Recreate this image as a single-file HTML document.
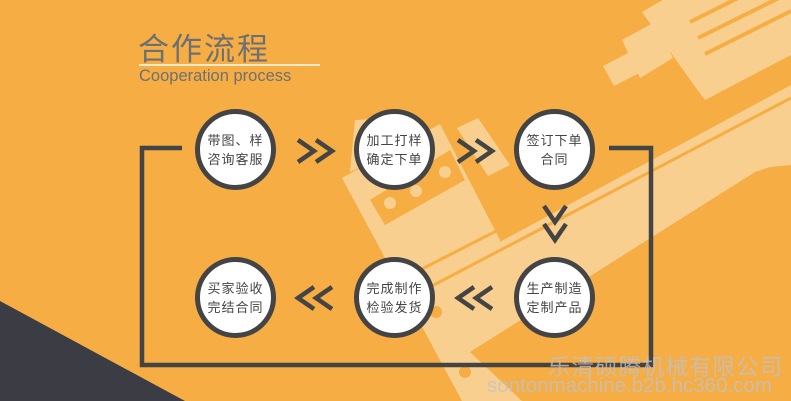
<!DOCTYPE html>
<html><head><meta charset="utf-8"><style>
html,body{margin:0;padding:0}
body{width:791px;height:401px;overflow:hidden;position:relative;background:#f5ad44;font-family:"Liberation Sans","Noto Sans CJK SC",sans-serif}
svg{position:absolute;left:0;top:0}
.t{position:absolute;white-space:nowrap}
.c{position:absolute;width:71px;height:71px;border:5px solid #444;border-radius:50%;background:#fff;display:flex;align-items:center;justify-content:center;text-align:center;font-size:13px;line-height:19px;color:#444;letter-spacing:1px}
</style></head><body>
<svg width="791" height="401" viewBox="0 0 791 401">
  <g fill="#f9cf90">
    <polygon points="420,285 791,85 791,165 770,167 755,172 470,352"/>
    <polygon points="342,178 440,124 500,240 470,352 522,401 462,401"/>
    <polygon points="350,172 355,120 395,118 400,150"/>
    <polygon points="457,128 478,118 510,165 488,176"/>
    <polygon points="603,66 630,52 641,72 614,86"/>
    <polygon points="622,40 655,22 673,58 640,78"/>
    <polygon points="642,12 680,-10 791,-10 791,35 696,88"/>
    <polygon points="696,88 791,35 791,55 705,100"/>
  </g>
  <g stroke="#f5ad44" stroke-width="3" fill="none">
    <line x1="420" y1="270" x2="791" y2="80"/>
    <line x1="428" y1="288" x2="791" y2="98"/>
    <line x1="690" y1="22" x2="770" y2="-18" stroke-width="4"/>
    <line x1="698" y1="38" x2="791" y2="-8" stroke-width="4"/>
    <line x1="705" y1="54" x2="791" y2="11" stroke-width="4"/>
  </g>
  <g fill="#f5ad44">
    <polygon points="370,200 450,150 465,180 385,225"/>
    <circle cx="390" cy="203" r="6" fill="#f9cf90"/>
    <circle cx="445" cy="172" r="6" fill="#f9cf90"/>
    <circle cx="416" cy="191" r="6" fill="#f9cf90"/>
    <circle cx="436" cy="312" r="6"/>
    <circle cx="465" cy="372" r="6"/>
  </g>
  <polygon points="0,301 185,401 0,401" fill="#3c3d44"/>
  <g stroke="#444" stroke-width="4.5" fill="none">
    <polyline points="182,148 142,148 142,365 651,365 651,148 609,148"/>
    <polyline points="298,140 314,151 298,162"/>
    <polyline points="316,140 332,151 316,162"/>
    <polyline points="458,140 474,151 458,162"/>
    <polyline points="476,140 492,151 476,162"/>
    <polyline points="544,206 555,222 566,206"/>
    <polyline points="544,224 555,240 566,224"/>
    <polyline points="314,287 298,298 314,309"/>
    <polyline points="332,287 316,298 332,309"/>
    <polyline points="474,287 458,298 474,309"/>
    <polyline points="492,287 476,298 492,309"/>
  </g>
  <line x1="139" y1="65" x2="320" y2="65" stroke="#fce9c8" stroke-width="2"/>
</svg>
<div class="t" style="left:138px;top:24px;font-size:31px;color:#6d7073;letter-spacing:2px">合作流程</div>
<div class="t" style="left:139px;top:67px;font-size:16.5px;color:#6d7073">Cooperation process</div>
<div class="c" style="left:195px;top:109px">带图、样<br>咨询客服</div>
<div class="c" style="left:354px;top:109px">加工打样<br>确定下单</div>
<div class="c" style="left:514px;top:109px">签订下单<br>合同</div>
<div class="c" style="left:195px;top:257px">买家验收<br>完结合同</div>
<div class="c" style="left:354px;top:257px">完成制作<br>检验发货</div>
<div class="c" style="left:514px;top:257px">生产制造<br>定制产品</div>
<div class="t" style="left:548px;top:350px;font-size:22.5px;color:rgba(190,195,205,0.75);letter-spacing:1px">乐清硕腾机械有限公司</div>
<div class="t" style="left:487px;top:374px;font-size:20.5px;color:rgba(190,195,205,0.75)">sontonmachine.b2b.hc360.com</div>
</body></html>
